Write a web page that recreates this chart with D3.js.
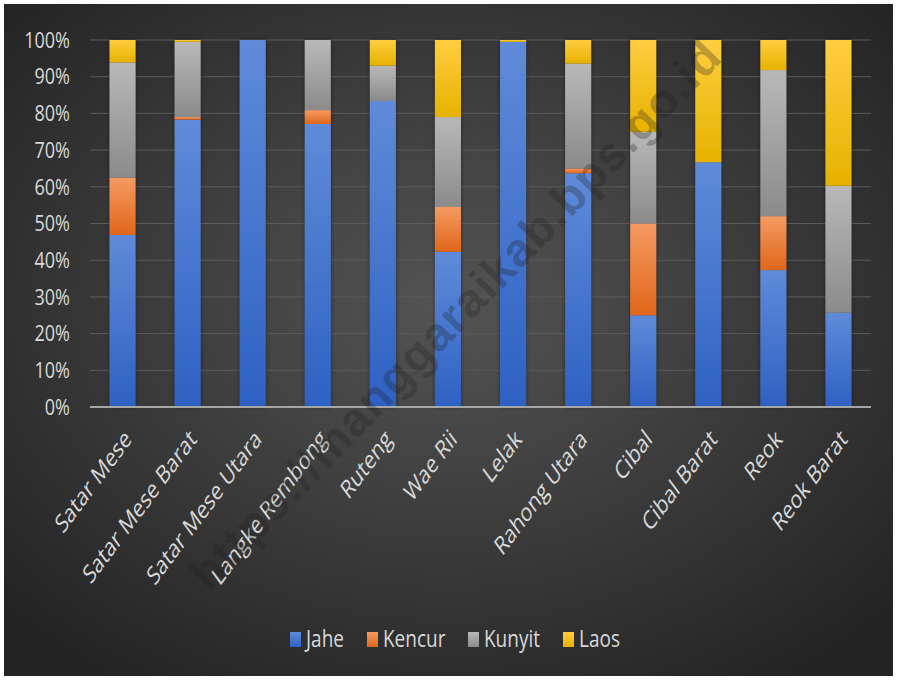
<!DOCTYPE html>
<html>
<head>
<meta charset="utf-8">
<script src="https://cdn.jsdelivr.net/npm/d3@7"></script>
<style>
  body { margin: 0; background: #fff; }
  svg { display: block; }
</style>
</head>
<body>
<div id="chart"></div>
<script>
// categories (kecamatan) and the share of each crop
var categories = ["Satar Mese", "Satar Mese Barat", "Satar Mese Utara", "Langke Rembong", "Ruteng",
    "Wae Rii", "Lelak", "Rahong Utara", "Cibal", "Cibal Barat", "Reok", "Reok Barat"];
var jahe   = [46.9, 78.3, 100, 77.1, 83.4, 42.3, 99.5, 63.7, 25.0, 66.7, 37.3, 25.7];
var kencur = [15.6,  0.7,   0,  3.8,    0, 12.2,    0,  1.3, 25.0,    0, 14.7,    0];
var kunyit = [31.4, 20.5,   0, 19.1,  9.6, 24.5,    0, 28.6, 25.0,    0, 39.8, 34.6];
var laos   = [ 6.1,  0.5,   0,    0,  7.0, 21.0,  0.5,  6.4, 25.0, 33.3,  8.2, 39.7];
var seriesNames = ["Jahe", "Kencur", "Kunyit", "Laos"];
var yTicks = [0, 0.1, 0.2, 0.3, 0.4, 0.5, 0.6, 0.7, 0.8, 0.9, 1];

(function () {
    var W = 897, H = 680;
    var left = 90, right = 871, top = 40, bottom = 407;

    var colors = {
        Jahe:   ["#5f8bd9", "#2e61c3"],
        Kencur: ["#f59a62", "#e0661a"],
        Kunyit: ["#b8b8b8", "#8b8b8b"],
        Laos:   ["#ffcd40", "#e6b200"]
    };

    var rows = categories.map(function (c, i) {
        return { cat: c, Jahe: jahe[i], Kencur: kencur[i], Kunyit: kunyit[i], Laos: laos[i] };
    });

    var svg = d3.select("#chart").append("svg")
        .attr("width", W).attr("height", H);

    var defs = svg.append("defs");
    var bg = defs.append("radialGradient").attr("id", "bg")
        .attr("cx", "50%").attr("cy", "45%").attr("r", "68%");
    bg.append("stop").attr("offset", "0%").attr("stop-color", "#545454");
    bg.append("stop").attr("offset", "100%").attr("stop-color", "#232323");

    seriesNames.forEach(function (s) {
        var g = defs.append("linearGradient").attr("id", "g-" + s)
            .attr("x1", 0).attr("y1", 0).attr("x2", 0).attr("y2", 1);
        g.append("stop").attr("offset", "0%").attr("stop-color", colors[s][0]);
        g.append("stop").attr("offset", "100%").attr("stop-color", colors[s][1]);
    });

    var shadow = defs.append("filter").attr("id", "shadow")
        .attr("x", "-30%").attr("y", "-5%").attr("width", "160%").attr("height", "110%");
    shadow.append("feDropShadow").attr("dx", 0).attr("dy", 0)
        .attr("stdDeviation", 2).attr("flood-color", "#000").attr("flood-opacity", 0.45);

    // background panel
    svg.append("rect")
        .attr("x", 4).attr("y", 4).attr("width", W - 8).attr("height", H - 8)
        .attr("fill", "url(#bg)");

    var x = d3.scaleBand().domain(categories).range([left, right])
        .paddingInner(0.6).paddingOuter(0.3);
    var y = d3.scaleLinear().domain([0, 1]).range([bottom, top]);

    // gridlines
    svg.append("g").selectAll("line")
        .data(yTicks.slice(1))
        .enter().append("line")
        .attr("x1", left).attr("x2", right)
        .attr("y1", function (d) { return y(d); })
        .attr("y2", function (d) { return y(d); })
        .attr("stroke", "#5c5c5c").attr("stroke-width", 1);

    // y labels
    svg.append("g").selectAll("text")
        .data(yTicks)
        .enter().append("text")
        .attr("transform", function (d) { return "translate(70," + y(d) + ") scale(1,1.2)"; })
        .attr("text-anchor", "end")
        .attr("dy", "0.36em")
        .attr("fill", "#d9d9d9")
        .style("font-family", "'Open Sans', sans-serif")
        .style("font-size", "18px")
        .text(d3.format(".0%"));

    // stacked bars
    var stacked = d3.stack().keys(seriesNames).offset(d3.stackOffsetExpand)(rows);

    var layers = svg.append("g").attr("filter", "url(#shadow)")
        .selectAll("g")
        .data(stacked)
        .enter().append("g")
        .attr("fill", function (d) { return "url(#g-" + d.key + ")"; });

    layers.selectAll("rect")
        .data(function (d) { return d; })
        .enter().append("rect")
        .attr("x", function (d) { return x(d.data.cat); })
        .attr("width", x.bandwidth())
        .attr("y", function (d) { return y(d[1]); })
        .attr("height", function (d) { return y(d[0]) - y(d[1]); });

    // x axis line
    svg.append("line")
        .attr("x1", left).attr("x2", right)
        .attr("y1", bottom).attr("y2", bottom)
        .attr("stroke", "#a6a6a6").attr("stroke-width", 2);

    // x labels
    svg.append("g").selectAll("text")
        .data(categories)
        .enter().append("text")
        .attr("transform", function (d) {
            return "translate(" + (x(d) + x.bandwidth() / 2) + ",427) scale(1,1.35) rotate(-45)";
        })
        .attr("text-anchor", "end")
        .attr("dy", "0.75em")
        .attr("fill", "#d9d9d9")
        .style("font-family", "'Open Sans', sans-serif")
        .style("font-size", "19px")
        .text(function (d) { return d; });

    // watermark
    svg.append("text")
        .attr("transform", "translate(455,314) rotate(-46)")
        .attr("text-anchor", "middle")
        .attr("dy", "0.35em")
        .attr("fill", "#1e1e1e").attr("fill-opacity", 0.3)
        .style("font-family", "'Liberation Sans', sans-serif")
        .style("font-weight", "bold")
        .style("font-size", "47px")
        .style("letter-spacing", "1.5px")
        .text("https://manggaraikab.bps.go.id");

    // legend
    var legendX = [290, 367, 468, 563];
    var legend = svg.append("g").selectAll("g")
        .data(seriesNames)
        .enter().append("g")
        .attr("transform", function (d, i) { return "translate(" + legendX[i] + ",632)"; });
    legend.append("rect")
        .attr("width", 11).attr("height", 15)
        .attr("fill", function (d) { return "url(#g-" + d + ")"; });
    legend.append("text")
        .attr("transform", "translate(16,15) scale(1,1.2)")
        .attr("fill", "#d9d9d9")
        .style("font-family", "'Open Sans', sans-serif")
        .style("font-size", "19px")
        .text(function (d) { return d; });
})();
</script>
</body>
</html>
